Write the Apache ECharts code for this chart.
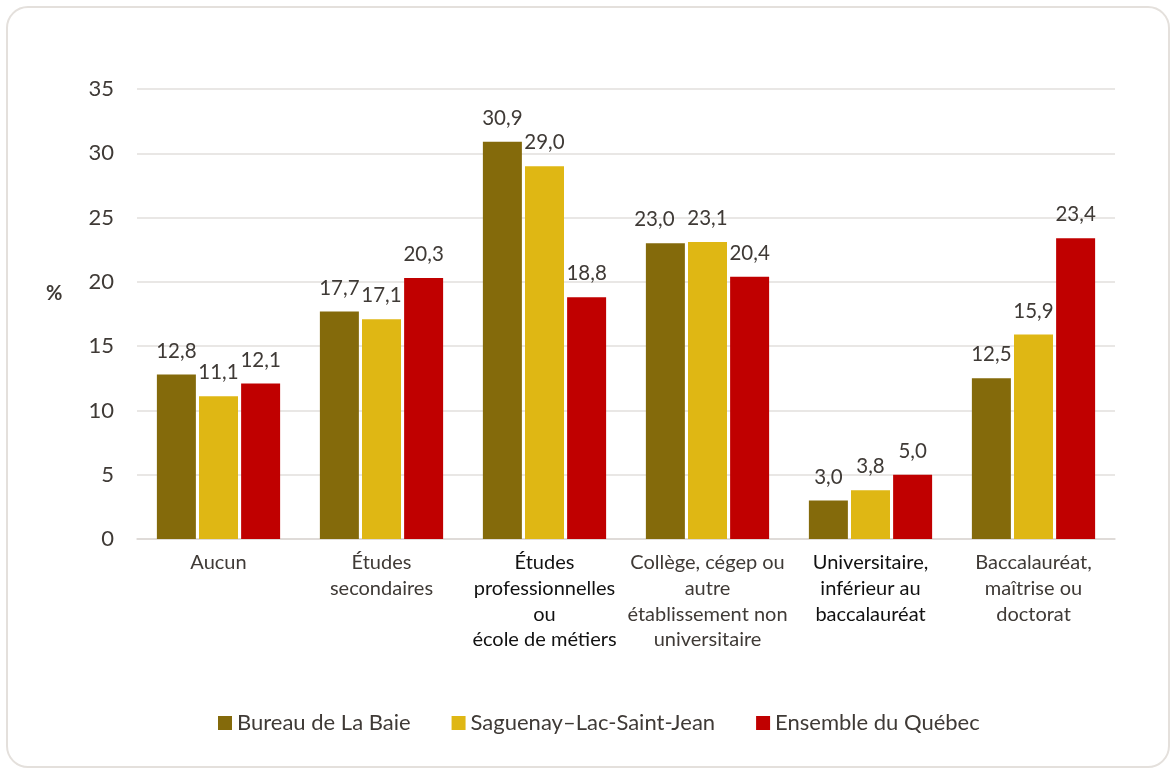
<!DOCTYPE html>
<html>
<head>
<meta charset="utf-8">
<script src="https://cdn.jsdelivr.net/npm/echarts@6/dist/echarts.min.js"></script>
<style>
  html, body { margin: 0; padding: 0; background: #fff; }
  #frame {
    position: absolute; left: 6px; top: 6px; width: 1164px; height: 762px;
    border: 2px solid #e4e0dc; border-radius: 22px; box-sizing: border-box;
  }
  #chart { position: absolute; left: 0; top: 0; width: 1176px; height: 774px; }
</style>
</head>
<body>
<div id="frame"></div>
<div id="chart"></div>
<script>
const categories = [
  'Aucun',
  'Études\nsecondaires',
  'Études\nprofessionnelles\nou\nécole de métiers',
  'Collège, cégep ou\nautre\nétablissement non\nuniversitaire',
  'Universitaire,\ninférieur au\nbaccalauréat',
  'Baccalauréat,\nmaîtrise ou\ndoctorat'
]
const seriesNames = ['Bureau de La Baie', 'Saguenay–Lac-Saint-Jean', 'Ensemble du Québec']
const laBaie = [12.8, 17.7, 30.9, 23.0, 3.0, 12.5]
const saguenay = [11.1, 17.1, 29.0, 23.1, 3.8, 15.9]
const quebec = [12.1, 20.3, 18.8, 20.4, 5.0, 23.4]
const colors = ['#846a0b', '#dfb714', '#c00000']

const font = 'Lato, "Open Sans", sans-serif'
const textGray = '#3f3a36'

// format 12.8 -> 12,8
const frNum = function (v) {
  return v.toFixed(1).replace('.', ',')
}

const makeSeries = function (name, data, i) {
  return {
    name: name,
    type: 'bar',
    data: data,
    barWidth: 39,
    barGap: '8%',
    itemStyle: {color: colors[i]},
    label: {
      show: true,
      position: 'top',
      distance: 13,
      color: textGray,
      fontFamily: font,
      fontSize: 20.5,
      formatter: function (p) { return frNum(p.value) }
    }
  }
}

// "23,0" label sits a bit left of its bar in the original
const laBaieData = laBaie.map(function (v, i) {
  return i === 3 ? {value: v, label: {offset: [-11, 0]}} : v
})

const chart = echarts.init(document.getElementById('chart'))
chart.setOption({
  animation: false,
  color: colors,
  textStyle: {fontFamily: font},
  grid: {left: 137, right: 61, top: 89, bottom: 235, containLabel: false},
  graphic: [{
    type: 'text',
    left: 46,
    top: 284,
    style: {text: '%', fontFamily: font, fontSize: 20, fontWeight: 'bold', fill: textGray}
  }],
  legend: {
    top: 707,
    left: 213,
    itemWidth: 14,
    itemHeight: 14,
    itemGap: 41,
    icon: 'rect',
    textStyle: {fontFamily: font, fontSize: 22, color: textGray},
    data: seriesNames
  },
  xAxis: {
    type: 'category',
    data: categories,
    axisLine: {lineStyle: {color: '#dcd8d4', width: 1.5}},
    axisTick: {show: false},
    axisLabel: {
      interval: 0,
      margin: 11,
      fontFamily: font,
      fontSize: 20,
      lineHeight: 25.7,
      color: function (v, i) {
        return (i === 2 || i === 4) ? '#111' : textGray
      }
    }
  },
  yAxis: {
    type: 'value',
    min: 0,
    max: 35,
    interval: 5,
    axisLine: {show: false},
    axisTick: {show: false},
    axisLabel: {margin: 23, fontFamily: font, fontSize: 22, color: textGray},
    splitLine: {lineStyle: {color: '#e2dfdc', width: 1.5}}
  },
  series: [
    makeSeries(seriesNames[0], laBaieData, 0),
    makeSeries(seriesNames[1], saguenay, 1),
    makeSeries(seriesNames[2], quebec, 2)
  ]
})
</script>
</body>
</html>
